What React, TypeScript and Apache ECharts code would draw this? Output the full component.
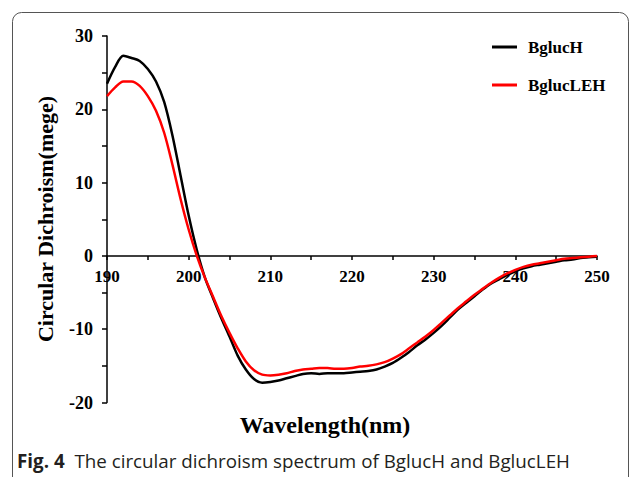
import React, { useEffect, useRef } from 'react';
import * as echarts from 'echarts';

const wavelengths = [
  190, 191, 192, 193, 194, 195, 196, 197, 198, 199,
  200, 201, 202, 203, 204, 205, 206, 207, 208, 209,
  210, 211, 212, 213, 214, 215, 216, 217, 218, 219,
  220, 221, 222, 223, 224, 225, 226, 227, 228, 229,
  230, 231, 232, 233, 234, 235, 236, 237, 238, 239,
  240, 241, 242, 243, 244, 245, 246, 247, 248, 249, 250,
];

const bglucH = [
  23.5, 25.8, 27.3, 27.0, 26.6, 25.5, 23.8, 21.0, 16.5, 11.0,
  5.5, 0.8, -3.0, -5.8, -8.5, -11.0, -13.6, -15.5, -16.8, -17.3,
  -17.2, -17.0, -16.7, -16.4, -16.1, -16.0, -16.1, -16.0, -16.0, -16.0,
  -15.9, -15.8, -15.7, -15.5, -15.1, -14.6, -13.9, -13.1, -12.2, -11.4,
  -10.5, -9.5, -8.4, -7.3, -6.4, -5.5, -4.6, -3.8, -3.2, -2.6,
  -2.1, -1.7, -1.4, -1.2, -1.0, -0.8, -0.6, -0.5, -0.3, -0.2, -0.1,
];

const bglucLEH = [
  21.8, 23.0, 23.8, 23.8, 23.2, 21.8, 19.8, 16.8, 12.5, 7.8,
  3.6, 0.0, -3.0, -5.6, -8.2, -10.5, -12.6, -14.4, -15.6, -16.2,
  -16.3, -16.2, -16.0, -15.7, -15.5, -15.4, -15.3, -15.3, -15.4, -15.4,
  -15.3, -15.1, -15.0, -14.8, -14.5, -14.0, -13.4, -12.6, -11.8, -11.0,
  -10.1, -9.1, -8.1, -7.1, -6.2, -5.3, -4.5, -3.7, -3.0, -2.4,
  -1.9, -1.5, -1.2, -1.0, -0.8, -0.6, -0.4, -0.3, -0.2, -0.1, 0.0,
];

const seriesNames = ['BglucH', 'BglucLEH'];
const xTitle = 'Wavelength(nm)';
const yTitle = 'Circular Dichroism(mege)';
const captionBold = 'Fig. 4';
const captionText = 'The circular dichroism spectrum of BglucH and BglucLEH';

const SERIF = '"Liberation Serif", "Times New Roman", serif';
const SANS = '"Open Sans", "Noto Sans", sans-serif';

const Y_MIN = -20;
const Y_MAX = 30;
const GRID_TOP = 36;
const GRID_BOTTOM = 74.5;
const CHART_H = 477;

export default function App() {
  const ref = useRef<HTMLDivElement>(null);

  useEffect(() => {
    document.body.style.margin = '0';
    const chart = echarts.init(ref.current as HTMLDivElement, null, { renderer: 'svg' });

    const labelStyle = {
      fontFamily: SERIF,
      fontWeight: 'bold' as const,
      fontSize: 17,
      color: '#000',
    };

    const legendBase = {
      orient: 'vertical' as const,
      left: 492,
      icon: 'rect',
      itemWidth: 25,
      itemHeight: 3,
      padding: 0,
      textStyle: {
        fontFamily: SERIF,
        fontWeight: 'bold' as const,
        fontSize: 17,
        lineHeight: 18,
        color: '#000',
        padding: [0, 0, 0, 6],
      },
    };

    // move the x axis up to the y = 0 line of the grid
    const gridH = CHART_H - GRID_TOP - GRID_BOTTOM;
    const zeroOffset = -(gridH * (0 - Y_MIN)) / (Y_MAX - Y_MIN);

    chart.setOption({
      animation: false,
      backgroundColor: '#fff',
      grid: { left: 107, right: 33, top: GRID_TOP, bottom: GRID_BOTTOM, containLabel: false },
      legend: [
        { ...legendBase, data: [seriesNames[0]], top: 38 },
        { ...legendBase, data: [seriesNames[1]], top: 76 },
      ],
      xAxis: {
        type: 'value',
        min: 190,
        max: 250,
        interval: 5,
        offset: zeroOffset,
        axisLine: { show: true, onZero: false, lineStyle: { color: '#000', width: 1.5 } },
        axisTick: { show: true, length: 4, lineStyle: { color: '#000', width: 1.5 } },
        axisLabel: {
          ...labelStyle,
          margin: 12,
          formatter: (v: number) => (v % 10 === 0 ? String(v) : ''),
        },
        splitLine: { show: false },
      },
      yAxis: {
        type: 'value',
        min: Y_MIN,
        max: Y_MAX,
        interval: 5,
        axisLine: { show: true, onZero: false, lineStyle: { color: '#000', width: 1.5 } },
        axisTick: { show: true, length: 5, lineStyle: { color: '#000', width: 1.5 } },
        axisLabel: {
          ...labelStyle,
          fontSize: 18,
          margin: 14,
          formatter: (v: number) => (v % 10 === 0 ? String(v) : ''),
        },
        splitLine: { show: false },
      },
      series: [
        {
          name: seriesNames[0],
          type: 'line',
          data: wavelengths.map((w, i) => [w, bglucH[i]]),
          symbol: 'none',
          smooth: 0.3,
          lineStyle: { color: '#000', width: 2.5 },
          itemStyle: { color: '#000' },
          z: 3,
        },
        {
          name: seriesNames[1],
          type: 'line',
          data: wavelengths.map((w, i) => [w, bglucLEH[i]]),
          symbol: 'none',
          smooth: 0.3,
          lineStyle: { color: '#ff0000', width: 2.5 },
          itemStyle: { color: '#ff0000' },
          z: 4,
        },
      ],
      graphic: [
        {
          type: 'rect',
          silent: true,
          shape: { x: 12.5, y: 12.5, width: 616, height: 540, r: 9 },
          style: { fill: 'none', stroke: '#555', lineWidth: 1 },
        },
        {
          type: 'text',
          x: 45,
          y: 219,
          rotation: Math.PI / 2,
          style: {
            text: yTitle,
            font: `bold 22px ${SERIF}`,
            fill: '#000',
            align: 'center',
            verticalAlign: 'middle',
          },
        },
        {
          type: 'text',
          x: 325,
          y: 425,
          style: {
            text: xTitle,
            font: `bold 24px ${SERIF}`,
            fill: '#000',
            align: 'center',
            verticalAlign: 'middle',
          },
        },
        {
          type: 'text',
          x: 17,
          y: 461,
          style: {
            text: `{b|${captionBold}}  {r|${captionText}}`,
            fill: '#231f20',
            align: 'left',
            verticalAlign: 'middle',
            rich: {
              b: { fontFamily: SANS, fontWeight: 'bold', fontSize: 18.8, fill: '#231f20' },
              r: { fontFamily: SANS, fontWeight: 'normal', fontSize: 18.8, fill: '#231f20' },
            },
            font: `18.8px ${SANS}`,
          },
        },
      ],
    });

    return () => chart.dispose();
  }, []);

  return <div ref={ref} style={{ width: 630, height: 477 }} />;
}
